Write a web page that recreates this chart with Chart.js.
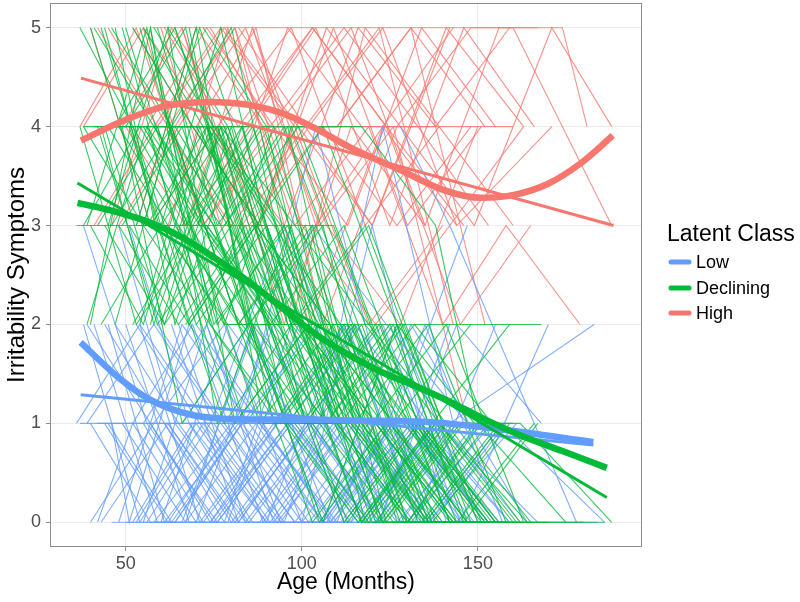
<!DOCTYPE html>
<html>
<head>
<meta charset="utf-8">
<script src="https://cdn.jsdelivr.net/npm/chart.js@4.4.1/dist/chart.umd.min.js"></script>
<style>
  html, body { margin: 0; padding: 0; background: #ffffff; }
  #wrap { width: 800px; height: 602px; }
</style>
</head>
<body>
<div id="wrap"><canvas id="trajChart" width="800" height="602"></canvas></div>
<script>
// Ejes
const xTicks = [50, 100, 150];
const yTicks = [0, 1, 2, 3, 4, 5];

// Clases latentes
const classNames = ['Low', 'Declining', 'High'];
const classColors = ['#619CFF', '#00BA38', '#F8766D'];
const classThin = ['rgba(97,156,255,0.8)', 'rgba(0,186,56,0.78)', 'rgba(248,118,109,0.8)'];

// Trayectorias individuales: [edad, puntaje, edad, puntaje, ...]
const lowTraj = [
  [38,2, 54,0, 72,1, 93,0, 115,1, 138,0],
  [40,1, 57,0, 76,0, 97,1, 120,0, 146,0],
  [42,0, 52,1, 70,0, 91,2, 112,0, 133,1, 155,0],
  [44,2, 61,1, 80,0, 101,1, 123,2, 145,0],
  [46,1, 51,0, 68,2, 88,1, 109,0, 131,1, 152,1],
  [48,3, 64,1, 84,0, 105,0, 126,1, 149,0],
  [50,0, 66,0, 87,2, 107,1, 128,0, 150,0],
  [52,1, 69,2, 89,0, 110,1, 130,0, 154,1],
  [54,2, 71,0, 92,1, 114,0, 135,2, 157,0],
  [56,0, 74,1, 95,3, 117,1, 137,0, 160,0],
  [39,1, 58,2, 77,1, 98,0, 119,1, 140,0, 165,0],
  [41,2, 59,0, 79,0, 99,2, 121,0, 142,1, 183,2],
  [43,0, 62,1, 82,0, 102,1, 124,0, 147,0],
  [45,1, 63,0, 83,1, 104,4, 125,1, 148,0],
  [47,2, 65,1, 85,0, 106,1, 127,0, 151,1],
  [49,1, 67,0, 86,2, 108,0, 129,1, 153,0],
  [53,0, 70,1, 90,0, 111,0, 132,1, 156,0],
  [57,1, 75,0, 96,1, 116,2, 136,0, 158,1],
  [59,2, 78,1, 98,0, 118,0, 139,1, 162,0],
  [37,1, 55,1, 73,2, 94,0, 113,1, 134,1, 159,0],
  [58,0, 80,1, 100,0, 120,3, 141,0, 163,0],
  [62,1, 81,0, 103,1, 122,0, 144,2, 168,1],
  [65,2, 84,0, 105,1, 123,4, 143,1],
  [60,0, 79,2, 99,1, 119,0, 140,0],
  [51,3, 68,1, 90,0, 112,2, 134,0, 156,0],
  [55,1, 72,0, 93,1, 115,1, 136,0, 161,1],
  [64,0, 83,1, 104,2, 124,0, 146,0],
  [68,1, 86,0, 107,0, 126,1, 147,3],
  [70,2, 89,1, 108,0, 131,1, 152,0],
  [36,1, 54,2, 73,1, 94,0, 114,0, 138,1],
  [42,1, 60,1, 80,1, 101,1, 122,1, 144,1, 160,1],
  [58,0, 80,0, 101,0, 123,0, 145,0, 166,0, 184,0],
  [48,0, 66,2, 85,1, 106,0, 127,2, 150,0],
  [53,2, 71,1, 91,0, 111,1, 132,0, 155,2],
  [66,1, 85,2, 106,0, 127,1, 148,1],
  [74,0, 93,1, 113,2, 133,0, 157,0],
  [40,0, 58,1, 78,2, 100,0, 121,1, 143,0],
  [44,1, 62,0, 81,1, 103,3, 124,2, 147,1],
  [50,2, 68,0, 88,0, 109,1, 130,1, 153,0],
  [56,1, 75,1, 95,0, 115,2, 136,1, 159,0],
  [63,2, 82,0, 102,1, 122,0, 142,2],
  [46,0, 64,0, 83,1, 105,0, 128,0, 149,1],
  [128,4, 142,3, 178,0],
  [38,3, 56,1, 76,0, 97,1, 118,0],
  [45,2, 61,0, 82,1, 102,0, 124,1, 146,0],
  [52,0, 69,1, 88,1, 110,0, 131,2, 164,0],
  [61,1, 78,0, 97,2, 117,0, 139,1, 167,0],
  [67,0, 87,1, 106,0, 126,1, 145,0, 170,2],
  [39,2, 57,1, 74,0, 96,1, 116,0, 137,1],
  [55,0, 73,2, 92,0, 113,1, 135,0, 157,1, 186,0]
];

const decliningTraj = [
  [38,4, 55,3, 74,2, 95,1, 116,0, 138,1],
  [40,5, 57,3, 76,4, 97,2, 118,1, 140,0],
  [42,3, 59,4, 78,2, 99,2, 120,0, 142,0],
  [44,4, 61,2, 80,3, 101,1, 122,1, 144,0],
  [46,5, 63,4, 82,2, 103,3, 124,0, 146,1],
  [48,3, 65,2, 84,3, 105,1, 126,0, 148,0],
  [50,4, 67,5, 86,2, 107,1, 128,2, 150,0],
  [52,2, 69,3, 88,1, 109,2, 130,0, 152,0],
  [54,5, 71,3, 90,3, 111,1, 132,1, 154,0],
  [56,3, 73,4, 92,2, 113,0, 134,1, 156,0],
  [39,3, 56,5, 75,2, 96,3, 117,1, 139,0],
  [41,4, 58,4, 77,3, 98,1, 119,0, 141,1],
  [43,2, 60,3, 79,4, 100,2, 121,1, 143,0],
  [45,4, 62,3, 81,1, 102,2, 123,0, 145,0],
  [47,5, 64,2, 83,4, 104,1, 125,1, 147,0],
  [49,3, 66,4, 85,2, 106,0, 127,2, 149,1],
  [51,4, 68,2, 87,3, 108,2, 129,0, 151,0],
  [53,3, 70,5, 89,1, 110,1, 131,0, 153,1],
  [55,4, 72,3, 91,2, 112,3, 133,1, 155,0],
  [57,2, 74,4, 93,3, 114,1, 135,0, 157,0],
  [37,4, 53,2, 72,3, 93,2, 114,1, 136,0, 160,0],
  [59,5, 76,3, 95,4, 116,2, 137,0, 159,1],
  [61,3, 78,2, 97,4, 118,2, 139,1, 161,0],
  [63,4, 80,5, 99,2, 120,1, 141,2, 163,0],
  [65,3, 82,2, 101,3, 122,0, 143,1, 165,0],
  [58,5, 75,4, 94,3, 115,1, 136,2, 158,0],
  [60,2, 77,4, 96,1, 117,2, 138,0, 160,0, 186,0],
  [62,4, 79,3, 98,2, 119,3, 140,1, 162,1, 188,0],
  [36,3, 54,3, 73,3, 94,2, 115,2, 136,2, 168,2],
  [38,4, 56,4, 75,4, 96,4, 117,4, 138,3, 150,1],
  [40,2, 57,5, 76,1, 97,3, 118,0, 140,1],
  [44,3, 61,2, 80,4, 101,1, 122,2, 144,0],
  [48,4, 65,3, 84,1, 105,2, 126,1, 148,2],
  [52,5, 69,4, 88,3, 109,3, 130,1, 152,0],
  [56,4, 73,2, 92,4, 113,1, 134,0, 156,1],
  [60,3, 77,5, 96,2, 117,0, 138,1, 160,0],
  [64,4, 81,3, 100,1, 121,2, 142,0],
  [68,5, 85,2, 104,3, 125,1, 146,1],
  [42,4, 59,2, 78,3, 99,4, 120,2, 142,0],
  [46,3, 63,4, 82,2, 103,0, 124,1, 146,1],
  [50,5, 67,3, 86,4, 107,2, 128,0, 150,0],
  [54,2, 71,4, 90,2, 111,1, 132,2, 154,1],
  [58,4, 75,3, 94,1, 115,2, 136,0, 158,0],
  [66,3, 83,4, 102,2, 123,1, 144,0, 166,1],
  [70,4, 87,3, 106,4, 127,2, 148,0],
  [43,5, 60,3, 79,2, 100,2, 121,1, 143,0],
  [47,4, 64,5, 83,3, 104,1, 125,2, 147,0],
  [51,3, 68,2, 87,3, 108,2, 129,1, 151,0],
  [55,5, 72,4, 91,2, 112,0, 133,1, 155,0],
  [59,4, 76,2, 95,3, 116,1, 137,1, 159,2],
  [39,2, 56,4, 75,3, 96,1, 117,0, 139,0],
  [41,5, 58,4, 77,4, 98,3, 119,2, 141,1],
  [45,3, 62,5, 81,1, 102,2, 123,0, 145,1],
  [49,4, 66,1, 85,2, 106,3, 127,0, 149,0],
  [53,3, 70,3, 89,4, 110,2, 131,1, 153,0],
  [57,5, 74,2, 93,1, 114,2, 135,0, 157,1],
  [61,4, 78,4, 97,2, 118,3, 139,1, 164,0],
  [67,2, 86,3, 105,2, 126,1, 147,0, 170,0],
  [72,5, 90,4, 109,1, 130,0, 151,1],
  [76,4, 94,2, 113,2, 134,1, 155,0],
  [37,5, 52,4, 70,2, 90,3, 110,1, 131,0],
  [40,3, 55,2, 73,4, 92,1, 112,2, 133,0],
  [44,5, 59,3, 78,1, 97,2, 117,0, 137,1],
  [47,2, 63,4, 82,2, 101,1, 121,1, 142,0],
  [52,4, 68,3, 86,2, 105,0, 125,1, 147,0],
  [55,3, 71,5, 90,3, 109,1, 129,2, 151,0],
  [62,5, 79,4, 98,2, 117,1, 137,0, 158,0],
  [69,3, 88,4, 107,1, 126,2, 146,0, 167,1],
  [73,4, 92,3, 111,2, 130,0, 150,1, 175,0],
  [38,3, 54,4, 71,3, 91,2, 111,2, 130,1, 152,0],
  [43,4, 58,2, 77,4, 96,2, 116,1, 136,0],
  [49,5, 64,3, 83,2, 103,1, 123,0, 144,1],
  [57,3, 73,3, 92,2, 112,1, 132,1, 153,0],
  [64,5, 82,3, 101,2, 121,0, 141,1, 162,0],
  [78,3, 96,4, 115,1, 135,0, 160,0, 180,0]
];

const highTraj = [
  [38,4, 55,5, 74,4, 95,3, 116,5, 138,4],
  [42,5, 59,4, 78,5, 99,4, 120,3, 142,5],
  [46,3, 63,5, 82,4, 103,5, 124,4, 146,3],
  [50,4, 67,3, 86,5, 107,3, 128,2, 150,4],
  [57,5, 75,5, 94,5, 115,5, 136,5, 152,5, 167,5],
  [58,4, 76,4, 96,4, 117,4, 138,4, 160,4],
  [62,3, 79,5, 98,3, 119,4, 140,2, 158,3, 179,2],
  [66,5, 83,3, 102,4, 123,5, 144,3, 171,4],
  [70,4, 87,5, 106,2, 127,4, 148,5, 160,5, 188,3],
  [40,5, 57,3, 76,4, 97,5, 118,3, 139,4],
  [44,4, 61,4, 80,3, 101,4, 122,5, 143,2],
  [48,3, 65,4, 84,5, 105,3, 126,4, 147,1],
  [52,5, 69,4, 88,3, 109,5, 130,3, 151,4],
  [56,4, 73,5, 92,4, 113,3, 134,5, 155,4],
  [60,5, 77,3, 96,5, 117,4, 138,4, 159,5],
  [64,4, 81,5, 100,3, 121,2, 142,3, 163,4],
  [68,3, 85,4, 104,5, 125,3, 146,5, 166,4],
  [74,5, 91,4, 110,4, 131,5, 152,4],
  [78,4, 95,2, 114,4, 135,3, 156,5, 174,5, 181,4],
  [37,4, 53,5, 72,3, 93,4, 114,5, 135,3],
  [45,5, 62,4, 81,5, 102,2, 123,4, 144,3],
  [53,3, 70,5, 89,4, 110,4, 131,5, 152,2],
  [61,5, 78,4, 97,2, 118,5, 139,4, 160,3],
  [69,4, 88,3, 107,5, 128,4, 149,3, 171,5, 188,4],
  [82,5, 101,4, 120,3, 141,5, 163,4],
  [41,3, 58,4, 77,5, 98,4, 119,2, 140,3],
  [49,4, 66,5, 85,3, 106,4, 127,3, 148,4],
  [55,5, 72,3, 91,4, 112,5, 133,4, 153,3],
  [65,4, 84,4, 103,5, 124,4, 145,2, 165,3],
  [86,5, 104,3, 123,4, 143,5]
];

// Curvas suavizadas (loess) y ajustes lineales
const lowLoessAge = [37.2, 47.4, 56.9, 68.3, 85.3, 99.5, 113.7, 137.4, 156.3, 182.8];
const lowLoessVal = [1.82, 1.48, 1.24, 1.09, 1.04, 1.04, 1.03, 1.01, 0.94, 0.81];
const lowLineAge = [37.2, 182.8];
const lowLineVal = [1.29, 0.78];

const decLoessAge = [36.3, 46, 56.9, 66, 75.8, 85, 95, 104, 113, 122, 132, 142, 152, 162, 174, 186.6];
const decLoessVal = [3.23, 3.15, 3.03, 2.88, 2.66, 2.43, 2.15, 1.9, 1.7, 1.53, 1.38, 1.22, 1.04, 0.88, 0.72, 0.55];
const decLineAge = [36.3, 186.6];
const decLineVal = [3.43, 0.25];

const highLoessAge = [37.3, 50, 61.6, 74, 85, 94.8, 104, 113.7, 128, 141, 150.8, 160.3, 169.8, 179.2, 188.3];
const highLoessVal = [3.86, 4.07, 4.21, 4.25, 4.22, 4.13, 3.98, 3.79, 3.56, 3.35, 3.28, 3.31, 3.42, 3.63, 3.91];
const highLineAge = [37.3, 188.5];
const highLineVal = [4.49, 3.0];

function toPoints(flat) {
    const pts = [];
    for (let i = 0; i < flat.length; i += 2) pts.push({ x: flat[i], y: flat[i + 1] });
    return pts;
}

function zipPoints(ages, vals) {
    return ages.map((a, i) => ({ x: a, y: vals[i] }));
}

function thinSet(flat, color) {
    return {
        data: toPoints(flat),
        borderColor: color,
        borderWidth: 1.1,
        showLine: true,
        pointRadius: 0,
        tension: 0
    };
}

function smoothSet(ages, vals, color, width, curved) {
    return {
        data: zipPoints(ages, vals),
        borderColor: color,
        borderWidth: width,
        borderCapStyle: 'butt',
        showLine: true,
        pointRadius: 0,
        cubicInterpolationMode: curved ? 'monotone' : 'default',
        tension: curved ? 0.4 : 0
    };
}

// Orden de dibujo: de abajo hacia arriba
const layers = [];
highTraj.forEach(t => layers.push(thinSet(t, classThin[2])));
lowTraj.forEach(t => layers.push(thinSet(t, classThin[0])));
decliningTraj.forEach(t => layers.push(thinSet(t, classThin[1])));
layers.push(smoothSet(lowLineAge, lowLineVal, classColors[0], 3, false));
layers.push(smoothSet(lowLoessAge, lowLoessVal, classColors[0], 6.5, true));
layers.push(smoothSet(decLineAge, decLineVal, classColors[1], 3, false));
layers.push(smoothSet(decLoessAge, decLoessVal, classColors[1], 6.5, true));
layers.push(smoothSet(highLineAge, highLineVal, classColors[2], 3, false));
layers.push(smoothSet(highLoessAge, highLoessVal, classColors[2], 6.5, true));
// Chart.js dibuja el primer dataset encima
const datasets = layers.reverse();

// Borde del panel y leyenda lateral
const panelAndLegend = {
    id: 'panelAndLegend',
    afterDraw(chart) {
        const { ctx, chartArea } = chart;
        ctx.save();
        ctx.strokeStyle = '#8c8c8c';
        ctx.lineWidth = 1;
        ctx.strokeRect(chartArea.left + 0.5, chartArea.top + 0.5,
            chartArea.right - chartArea.left - 1, chartArea.bottom - chartArea.top - 1);

        ctx.fillStyle = '#000000';
        ctx.textBaseline = 'middle';
        ctx.textAlign = 'left';
        ctx.font = '23px "Liberation Sans", Arial, sans-serif';
        ctx.fillText('Latent Class', 667, 235);

        ctx.font = '18px "Liberation Sans", Arial, sans-serif';
        const rowY = [262, 288, 313];
        classNames.forEach((name, i) => {
            ctx.strokeStyle = classColors[i];
            ctx.lineWidth = 5;
            ctx.lineCap = 'round';
            ctx.beginPath();
            ctx.moveTo(671, rowY[i]);
            ctx.lineTo(689, rowY[i]);
            ctx.stroke();
            ctx.fillStyle = '#000000';
            ctx.fillText(name, 696, rowY[i] + 1);
        });
        ctx.restore();
    }
};

Chart.defaults.font.family = '"Liberation Sans", Arial, sans-serif';

new Chart(document.getElementById('trajChart'), {
    type: 'scatter',
    data: { datasets },
    options: {
        responsive: false,
        animation: false,
        devicePixelRatio: 1,
        layout: { padding: { top: 3, right: 158, left: 0, bottom: 0 } },
        plugins: {
            legend: { display: false },
            tooltip: { enabled: false }
        },
        scales: {
            x: {
                type: 'linear',
                min: 28.5,
                max: 196.6,
                afterBuildTicks: scale => { scale.ticks = xTicks.map(v => ({ value: v })); },
                afterFit: scale => {
                    scale.height = 55;
                    scale.paddingLeft = 0;
                    scale.paddingRight = 0;
                },
                grid: { color: '#ebebeb', lineWidth: 1, tickLength: 4, tickColor: '#8c8c8c' },
                border: { display: false },
                ticks: { color: '#4d4d4d', font: { size: 18 }, padding: 2, maxRotation: 0 },
                title: { display: true, text: 'Age (Months)', color: '#000000', font: { size: 23 }, padding: { top: 0, bottom: 6 } }
            },
            y: {
                type: 'linear',
                min: -0.25,
                max: 5.25,
                afterBuildTicks: scale => { scale.ticks = yTicks.map(v => ({ value: v })); },
                afterFit: scale => {
                    scale.width = 50;
                    scale.paddingTop = 0;
                    scale.paddingBottom = 0;
                },
                grid: { color: '#ebebeb', lineWidth: 1, tickLength: 4, tickColor: '#8c8c8c' },
                border: { display: false },
                ticks: { color: '#4d4d4d', font: { size: 18 }, padding: 5 },
                title: { display: true, text: 'Irritability Symptoms', color: '#000000', font: { size: 24 }, padding: { top: 3, bottom: 0 } }
            }
        }
    },
    plugins: [panelAndLegend]
});
</script>
</body>
</html>
